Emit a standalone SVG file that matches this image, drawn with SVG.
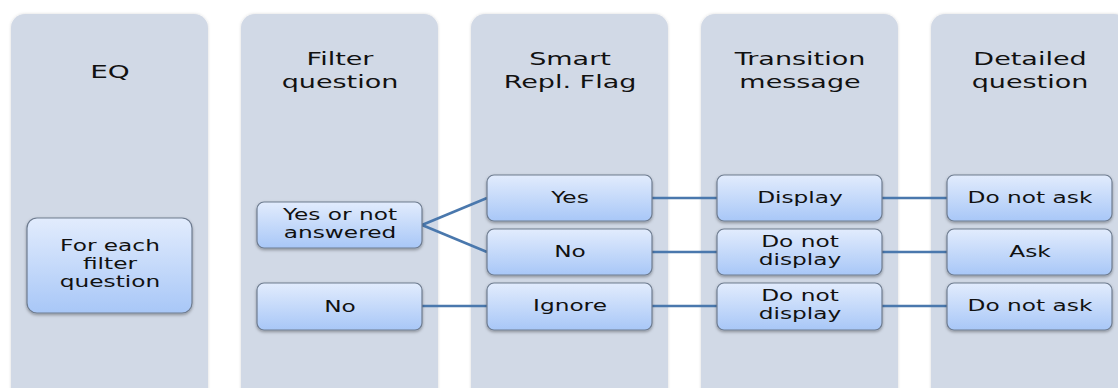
<svg xmlns="http://www.w3.org/2000/svg" width="1118" height="388" viewBox="0 0 1118 388">
  <defs>
    <linearGradient id="nodeFill" x1="0" y1="0" x2="0" y2="1">
      <stop offset="0" stop-color="#e2ecfd"/>
      <stop offset="1" stop-color="#a8c7f7"/>
    </linearGradient>
    <filter id="soft" x="-10%" y="-10%" width="120%" height="130%">
      <feDropShadow dx="0" dy="1.5" stdDeviation="1.5" flood-color="#000" flood-opacity="0.35"/>
    </filter>
    <filter id="laneShadow" x="-5%" y="-5%" width="110%" height="110%">
      <feDropShadow dx="0" dy="0" stdDeviation="1.5" flood-color="#000" flood-opacity="0.15"/>
    </filter>
  </defs>
  <style>
    .lane { fill: #d1d9e6; filter: url(#laneShadow); }
    .node { fill: url(#nodeFill); stroke: #6e7c90; stroke-width: 1.2; filter: url(#soft); }
    .head { font-family: "DejaVu Sans", Verdana, sans-serif; font-size: 18px; fill: #111; text-anchor: middle; }
    .lbl { font-family: "DejaVu Sans", Verdana, sans-serif; font-size: 15.5px; fill: #111; text-anchor: middle; }
    .conn { stroke: #4a78ad; stroke-width: 2.6; fill: none; }
  </style>

  <rect width="1118" height="388" fill="#ffffff"/>

  <!-- swim lanes -->
  <g id="lanes">
    <rect class="lane" x="11" y="14" width="197" height="400" rx="14"/>
    <rect class="lane" x="241" y="14" width="197" height="400" rx="14"/>
    <rect class="lane" x="471" y="14" width="197" height="400" rx="14"/>
    <rect class="lane" x="701" y="14" width="197" height="400" rx="14"/>
    <rect class="lane" x="931" y="14" width="197" height="400" rx="14"/>
  </g>

  <!-- lane titles, widened horizontally -->
  <g id="headers">
    <text class="head" transform="translate(110 78) scale(1.55 1)">EQ</text>
    <text class="head" transform="translate(340 65) scale(1.5 1)">Filter</text>
    <text class="head" transform="translate(340 88) scale(1.5 1)">question</text>
    <text class="head" transform="translate(570 65) scale(1.5 1)">Smart</text>
    <text class="head" transform="translate(570 88) scale(1.5 1)">Repl. Flag</text>
    <text class="head" transform="translate(800 65) scale(1.5 1)">Transition</text>
    <text class="head" transform="translate(800 88) scale(1.5 1)">message</text>
    <text class="head" transform="translate(1030 65) scale(1.5 1)">Detailed</text>
    <text class="head" transform="translate(1030 88) scale(1.5 1)">question</text>
  </g>

  <!-- connectors -->
  <g id="connectors">
    <path class="conn" d="M422 225 L487 198"/>
    <path class="conn" d="M422 225 L487 252"/>
    <path class="conn" d="M422 306 L487 306"/>
    <path class="conn" d="M652 198 L717 198"/>
    <path class="conn" d="M652 252 L717 252"/>
    <path class="conn" d="M652 306 L717 306"/>
    <path class="conn" d="M882 198 L947 198"/>
    <path class="conn" d="M882 252 L947 252"/>
    <path class="conn" d="M882 306 L947 306"/>
  </g>

  <g id="node-each">
    <rect class="node" x="27" y="218" width="165" height="95" rx="10"/>
    <text class="lbl" transform="translate(110 251) scale(1.5 1)">For each</text>
    <text class="lbl" transform="translate(110 269) scale(1.5 1)">filter</text>
    <text class="lbl" transform="translate(110 287) scale(1.5 1)">question</text>
  </g>

  <g id="node-filter-yes">
    <rect class="node" x="257" y="202" width="165" height="46" rx="7"/>
    <text class="lbl" transform="translate(340 220) scale(1.5 1)">Yes or not</text>
    <text class="lbl" transform="translate(340 238) scale(1.5 1)">answered</text>
  </g>
  <g id="node-filter-no">
    <rect class="node" x="257" y="283" width="165" height="47" rx="7"/>
    <text class="lbl" transform="translate(340 312) scale(1.5 1)">No</text>
  </g>

  <g id="node-flag-yes">
    <rect class="node" x="487" y="175" width="165" height="46" rx="7"/>
    <text class="lbl" transform="translate(570 203) scale(1.5 1)">Yes</text>
  </g>
  <g id="node-flag-no">
    <rect class="node" x="487" y="229" width="165" height="46" rx="7"/>
    <text class="lbl" transform="translate(570 257) scale(1.5 1)">No</text>
  </g>
  <g id="node-flag-ignore">
    <rect class="node" x="487" y="283" width="165" height="47" rx="7"/>
    <text class="lbl" transform="translate(570 311) scale(1.5 1)">Ignore</text>
  </g>

  <g id="node-msg-display">
    <rect class="node" x="717" y="175" width="165" height="46" rx="7"/>
    <text class="lbl" transform="translate(800 203) scale(1.5 1)">Display</text>
  </g>
  <g id="node-msg-nodisplay-1">
    <rect class="node" x="717" y="229" width="165" height="46" rx="7"/>
    <text class="lbl" transform="translate(800 247) scale(1.5 1)">Do not</text>
    <text class="lbl" transform="translate(800 265) scale(1.5 1)">display</text>
  </g>
  <g id="node-msg-nodisplay-2">
    <rect class="node" x="717" y="283" width="165" height="47" rx="7"/>
    <text class="lbl" transform="translate(800 301) scale(1.5 1)">Do not</text>
    <text class="lbl" transform="translate(800 319) scale(1.5 1)">display</text>
  </g>

  <g id="node-q-noask-1">
    <rect class="node" x="947" y="175" width="165" height="46" rx="7"/>
    <text class="lbl" transform="translate(1030 203) scale(1.5 1)">Do not ask</text>
  </g>
  <g id="node-q-ask">
    <rect class="node" x="947" y="229" width="165" height="46" rx="7"/>
    <text class="lbl" transform="translate(1030 257) scale(1.5 1)">Ask</text>
  </g>
  <g id="node-q-noask-2">
    <rect class="node" x="947" y="283" width="165" height="47" rx="7"/>
    <text class="lbl" transform="translate(1030 311) scale(1.5 1)">Do not ask</text>
  </g>
</svg>
